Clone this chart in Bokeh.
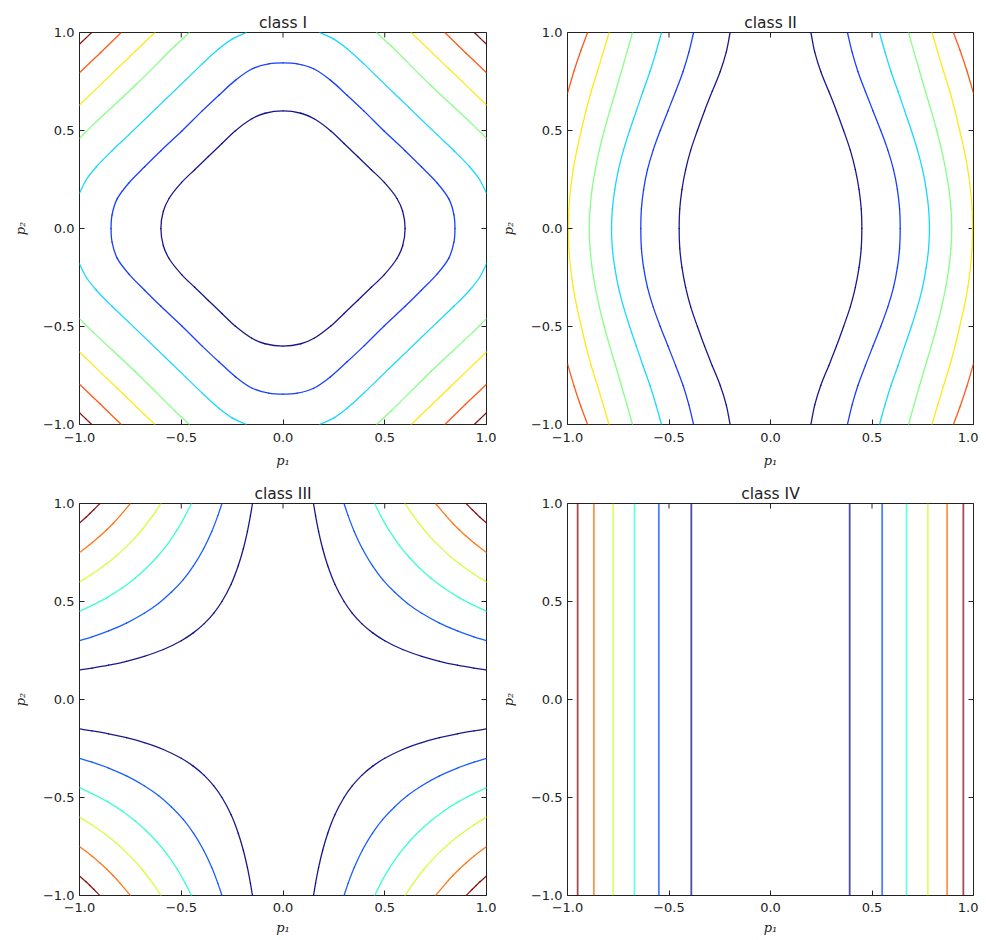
import numpy as np
from bokeh.plotting import figure
from bokeh.models import Range1d, FixedTicker, ColumnDataSource
from bokeh.layouts import column, row
from bokeh.embed import file_html
from bokeh.resources import INLINE

# ---------------- data ----------------
tick_values = [-1.0, -0.5, 0.0, 0.5, 1.0]
tick_labels = ["\u22121.0", "\u22120.5", "0.0", "0.5", "1.0"]
titles = ["class I", "class II", "class III", "class IV"]
x_label = "p\u2081"
y_label = "p\u2082"

# class I: first-quadrant half arcs (p1, p2), from the p2 axis / top edge to the diagonal
c1_inner = [(0.0, 0.600), (0.088, 0.588), (0.153, 0.560), (0.235, 0.498), (0.300, 0.434), (0.367, 0.367)]
c1_blue = [(0.0, 0.845), (0.070, 0.840), (0.151, 0.815), (0.233, 0.757), (0.315, 0.680), (0.397, 0.600), (0.497, 0.497)]
c1_cyan = [(0.18, 1.0), (0.25, 0.966), (0.315, 0.917), (0.397, 0.840), (0.479, 0.757), (0.618, 0.618)]
c1_green = [(0.46, 1.0), (0.53, 0.932), (0.728, 0.728)]
c1_yellow = [(0.63, 1.0), (0.815, 0.815)]
c1_orange = [(0.795, 1.0), (0.897, 0.897)]
c1_darkred = [(0.94, 1.0), (0.97, 0.97)]

# class II: p1 of each contour (right half) at these p2 values (upper half)
c2_p2 = [0.0, 0.1, 0.2, 0.3, 0.4, 0.5, 0.6, 0.7, 0.8, 0.9, 1.0]
c2_navy = [0.450, 0.447, 0.436, 0.418, 0.393, 0.360, 0.325, 0.287, 0.248, 0.218, 0.199]
c2_blue = [0.639, 0.636, 0.625, 0.606, 0.578, 0.543, 0.505, 0.467, 0.431, 0.402, 0.379]
c2_cyan = [0.783, 0.779, 0.767, 0.749, 0.724, 0.694, 0.661, 0.628, 0.594, 0.564, 0.537]
c2_green = [0.893, 0.889, 0.879, 0.863, 0.843, 0.819, 0.792, 0.763, 0.735, 0.707, 0.680]
c2_yellow = [0.995, 0.993, 0.985, 0.972, 0.954, 0.932, 0.909, 0.883, 0.853, 0.824, 0.795]
c2_red_p2 = [0.69, 0.806, 0.908, 1.0]
c2_red_p1 = [1.0, 0.967, 0.934, 0.901]

# class III: first-quadrant half arcs, from the top edge to the diagonal
c3_arcs = [
    [(0.150, 1.0), (0.160, 0.938), (0.175, 0.857), (0.195, 0.769), (0.220, 0.682), (0.255, 0.588), (0.300, 0.500), (0.340, 0.441), (0.387, 0.387)],
    [(0.300, 1.0), (0.320, 0.938), (0.350, 0.857), (0.390, 0.769), (0.440, 0.682), (0.490, 0.612), (0.548, 0.548)],
    [(0.450, 1.0), (0.480, 0.938), (0.520, 0.865), (0.570, 0.789), (0.620, 0.726), (0.671, 0.671)],
    [(0.600, 1.0), (0.640, 0.938), (0.690, 0.870), (0.730, 0.822), (0.775, 0.775)],
    [(0.750, 1.0), (0.800, 0.938), (0.835, 0.898), (0.866, 0.866)],
    [(0.900, 1.0), (0.930, 0.968), (0.949, 0.949)],
]

# class IV: p1 positions of the vertical contour lines
c4_p1 = [-0.95, -0.87, -0.775, -0.67, -0.55, -0.39, 0.39, 0.55, 0.67, 0.775, 0.87, 0.95]
c4_level = [5, 4, 3, 2, 1, 0, 0, 1, 2, 3, 4, 5]

# ---------------- styles ----------------
JET7 = ["#000080", "#002aff", "#00d4ff", "#7bff7b", "#ffe600", "#ff4800", "#800000"]
JET6 = ["#000080", "#004cff", "#29ffce", "#ceff29", "#ff6800", "#800000"]
TXT = "#222222"


# ---------------- helpers ----------------
def bez_segments(pts, closed=False, alpha=0.5):
    """Smooth drawing (centripetal Catmull-Rom as cubic Bezier) through the read points."""
    P = np.asarray(pts, float)
    n = len(P)
    if closed:
        ext = np.vstack([P[-1:], P, P[:2]])
        m = n
    else:
        ext = np.vstack([2 * P[0] - P[1], P, 2 * P[-1] - P[-2]])
        m = n - 1
    out = []
    for i in range(m):
        p0, p1, p2, p3 = ext[i], ext[i + 1], ext[i + 2], ext[i + 3]
        d1 = max(np.hypot(*(p1 - p0)), 1e-9) ** alpha
        d2 = max(np.hypot(*(p2 - p1)), 1e-9) ** alpha
        d3 = max(np.hypot(*(p3 - p2)), 1e-9) ** alpha
        b1 = (d1 * d1 * p2 - d2 * d2 * p0 + (2 * d1 * d1 + 3 * d1 * d2 + d2 * d2) * p1) / (3 * d1 * (d1 + d2))
        b2 = (d3 * d3 * p1 - d2 * d2 * p3 + (2 * d3 * d3 + 3 * d3 * d2 + d2 * d2) * p2) / (3 * d3 * (d3 + d2))
        out.append((p1, b1, b2, p2))
    return out


def mirror_diag(half):
    return list(half) + [(y, x) for (x, y) in reversed(half[:-1])]


def closed_loop(octant):
    q1 = mirror_diag(octant)
    q4 = [(x, -y) for (x, y) in reversed(q1)][1:]
    q3 = [(-x, -y) for (x, y) in q1][1:]
    q2 = [(-x, y) for (x, y) in reversed(q1)][1:-1]
    return q1 + q4 + q3 + q2


def four_quadrants(arc):
    return [[(sx * x, sy * y) for (x, y) in arc] for sx, sy in [(1, 1), (-1, 1), (1, -1), (-1, -1)]]


class Bez:
    def __init__(self):
        self.d = {k: [] for k in ["x0", "y0", "x1", "y1", "cx0", "cy0", "cx1", "cy1", "color"]}

    def add(self, pts, color, closed=False):
        for a, b1, b2, b in bez_segments(pts, closed):
            self.d["x0"].append(a[0]); self.d["y0"].append(a[1])
            self.d["x1"].append(b[0]); self.d["y1"].append(b[1])
            self.d["cx0"].append(b1[0]); self.d["cy0"].append(b1[1])
            self.d["cx1"].append(b2[0]); self.d["cy1"].append(b2[1])
            self.d["color"].append(color)

    def draw(self, p, width=1.3, alpha=0.9):
        p.bezier(x0="x0", y0="y0", x1="x1", y1="y1", cx0="cx0", cy0="cy0", cx1="cx1", cy1="cy1",
                 line_color="color", line_width=width, line_alpha=alpha, line_cap="round",
                 source=ColumnDataSource(self.d))


def style_axis(ax, label_standoff, title_standoff):
    ax.ticker = FixedTicker(ticks=tick_values)
    ax.minor_tick_line_color = None
    ax.major_tick_in = 5
    ax.major_tick_out = 0
    ax.major_tick_line_color = TXT
    ax.axis_line_color = None
    ax.major_label_overrides = dict(zip(tick_values, tick_labels))
    ax.major_label_text_font = "DejaVu Sans"
    ax.major_label_text_color = TXT
    ax.major_label_text_font_size = "13px"
    ax.major_label_standoff = label_standoff
    ax.axis_label_standoff = title_standoff
    ax.axis_label_text_font = "DejaVu Serif"
    ax.axis_label_text_font_style = "italic"
    ax.axis_label_text_font_size = "13px"
    ax.axis_label_text_color = TXT


def make_fig(title, width, height, bl, br, bt, bb, xt_standoff, xl_standoff):
    p = figure(width=width, height=height, x_range=Range1d(-1, 1), y_range=Range1d(-1, 1),
               output_backend="svg", toolbar_location=None, tools="",
               min_border_left=bl, min_border_right=br, min_border_top=bt, min_border_bottom=bb)
    p.background_fill_color = "white"
    p.border_fill_color = "white"
    p.outline_line_color = TXT
    p.outline_line_width = 1
    p.grid.visible = False
    p.title.text = title
    p.title.align = "center"
    p.title.text_font = "DejaVu Sans"
    p.title.text_font_size = "15.5px"
    p.title.text_font_style = "normal"
    p.title.text_color = TXT
    p.title.standoff = 2
    style_axis(p.xaxis[0], xt_standoff, xl_standoff)
    style_axis(p.yaxis[0], 5, 12)
    p.xaxis.axis_label = x_label
    p.yaxis.axis_label = y_label
    # inward ticks on the top and right spines
    p.scatter(x=tick_values, y=[1.0] * len(tick_values), marker="dash", size=10, angle=np.pi / 2,
              line_color=TXT, line_width=1)
    p.scatter(x=[1.0] * len(tick_values), y=tick_values, marker="dash", size=10,
              line_color=TXT, line_width=1)
    return p


# ---------------- figures ----------------
f1 = make_fig(titles[0], 496, 479, 79, 10, 32, 55, 8, 8)
f2 = make_fig(titles[1], 482, 479, 71, 5, 32, 55, 8, 8)
f3 = make_fig(titles[2], 496, 460, 79, 10, 24, 44, 7, 5)
f4 = make_fig(titles[3], 482, 460, 71, 5, 24, 44, 7, 5)

# class I
b1 = Bez()
b1.add(closed_loop(c1_inner), JET7[0], closed=True)
b1.add(closed_loop(c1_blue), JET7[1], closed=True)
for half, col in zip([c1_cyan, c1_green, c1_yellow, c1_orange, c1_darkred], JET7[2:]):
    for arc in four_quadrants(mirror_diag(half)):
        b1.add(arc, col)
b1.draw(f1)

# class II
b2 = Bez()
for vals, col in zip([c2_navy, c2_blue, c2_cyan, c2_green, c2_yellow], JET7[:5]):
    right_curve = [(vals[i], -c2_p2[i]) for i in range(len(c2_p2) - 1, 0, -1)] + \
                  [(vals[i], c2_p2[i]) for i in range(len(c2_p2))]
    b2.add(right_curve, col)
    b2.add([(-x, y) for (x, y) in right_curve], col)
red_arc = list(zip(c2_red_p1, c2_red_p2))
for arc in four_quadrants(red_arc):
    b2.add(arc, JET7[5])
b2.draw(f2)

# class III
b3 = Bez()
for half, col in zip(c3_arcs, JET6):
    for arc in four_quadrants(mirror_diag(half)):
        b3.add(arc, col)
b3.draw(f3)

# class IV
src4 = ColumnDataSource(dict(x=c4_p1, color=[JET6[k] for k in c4_level]))
f4.segment(x0="x", y0=-1, x1="x", y1=1, line_color="color", line_width=1.8, line_alpha=0.7, source=src4)

layout = column(row(f1, f2), row(f3, f4))
open("out.html", "w").write(file_html(layout, INLINE))
